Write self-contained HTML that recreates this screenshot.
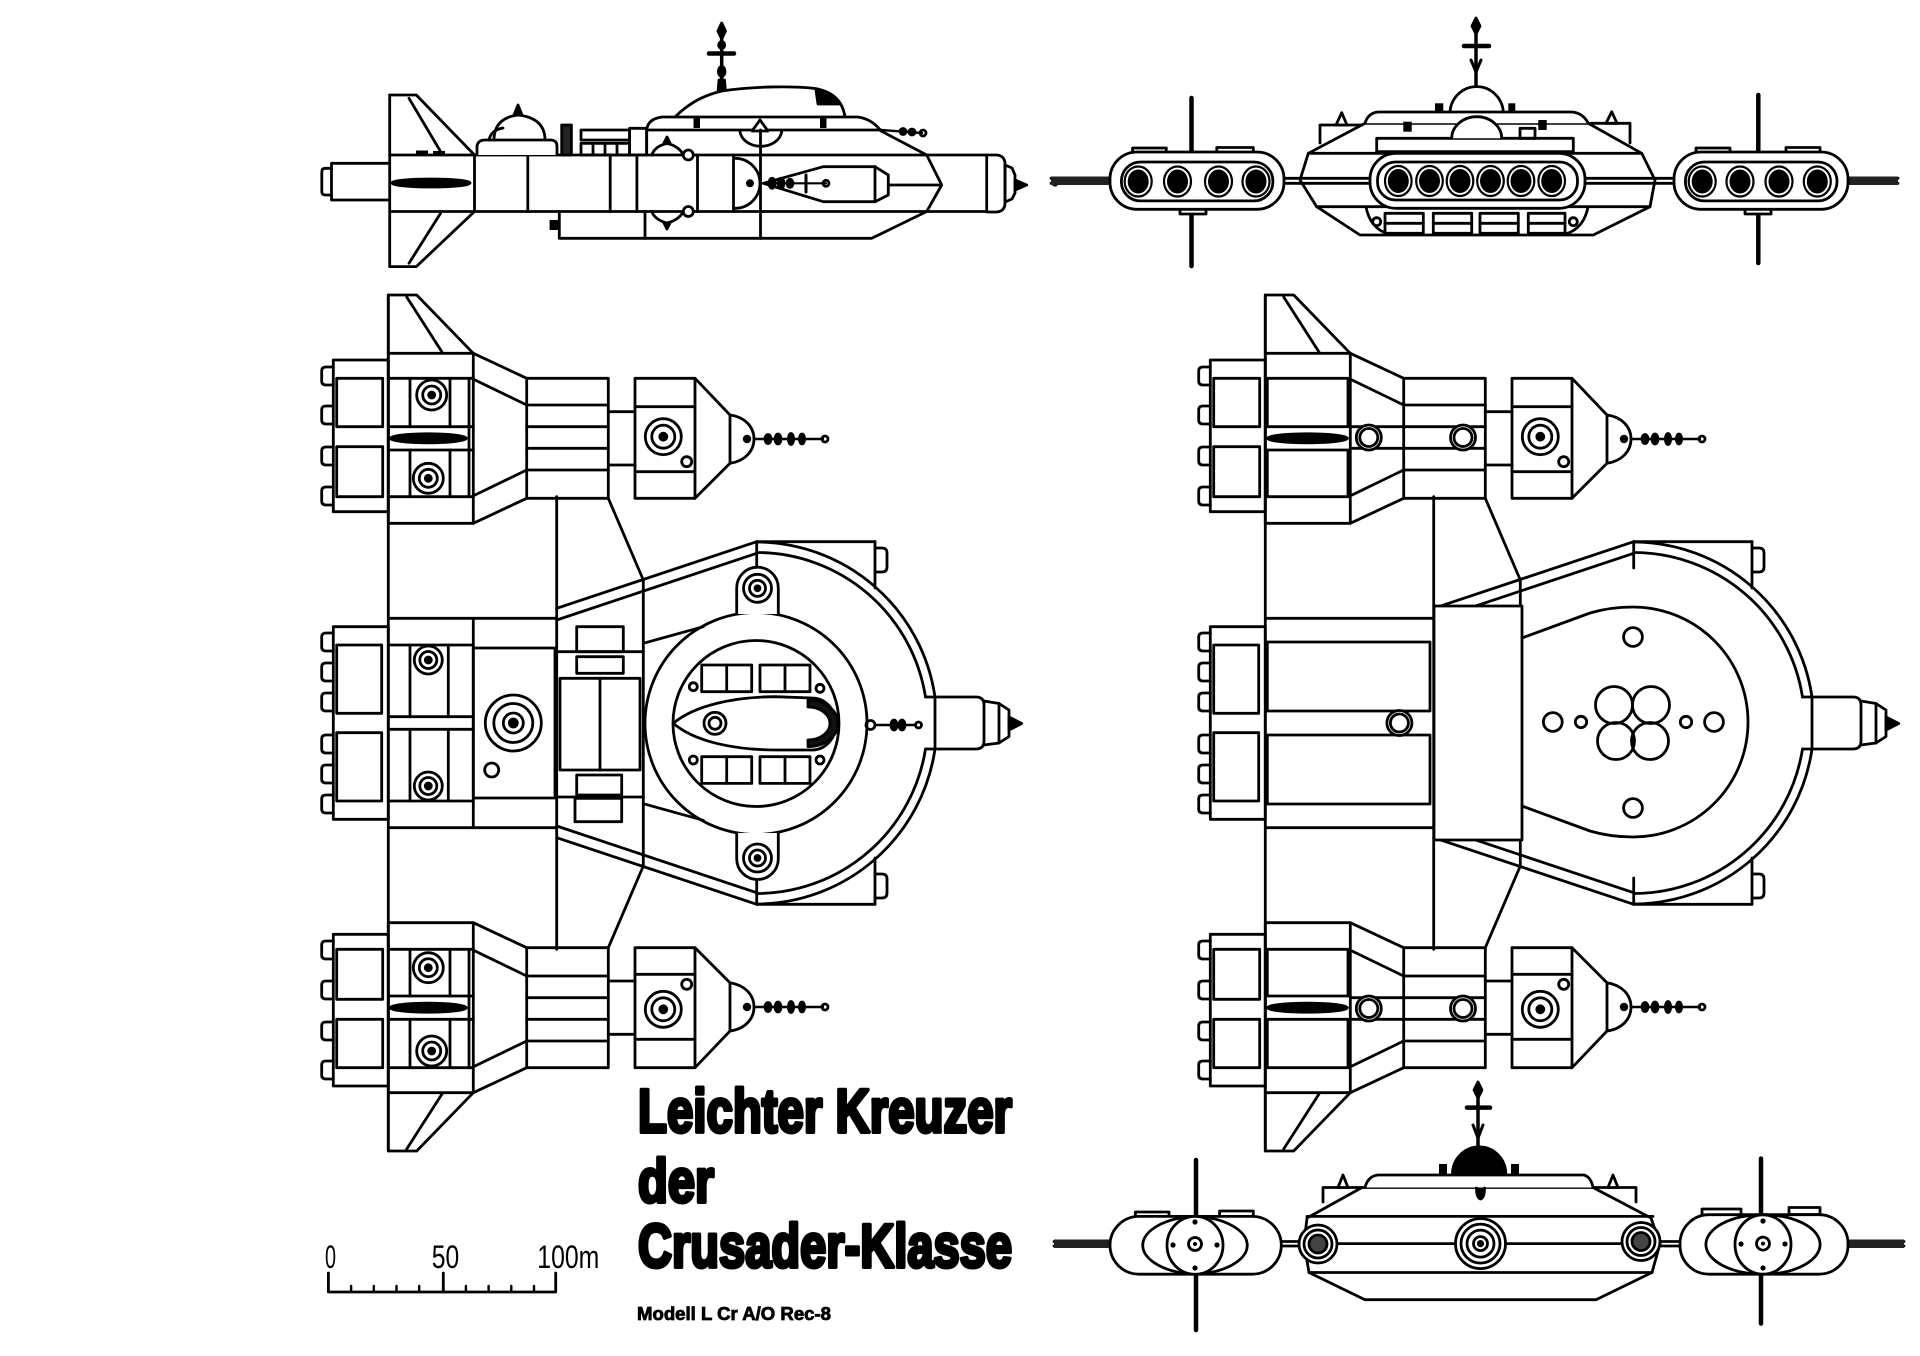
<!DOCTYPE html>
<html><head><meta charset="utf-8"><title>Leichter Kreuzer der Crusader-Klasse</title>
<style>html,body{margin:0;padding:0;background:#fff;overflow:hidden}svg{display:block}</style>
</head><body>
<svg xmlns="http://www.w3.org/2000/svg" width="1920" height="1356" viewBox="0 0 1920 1356">
<rect width="1920" height="1356" fill="#fff"/>
<defs>
<g id="pod">
 <polyline points="388.3,353.3 388.3,295 416.7,295 473.3,353.3"/>
 <line x1="406.7" y1="297" x2="442" y2="352"/>
 <rect x="388.3" y="353.3" width="85" height="170"/>
 <path d="M333.3,367H326Q321.7,367 321.7,371V381Q321.7,385 326,385H333.3M333.3,406H326Q321.7,406 321.7,410V420Q321.7,424 326,424H333.3M333.3,447H326Q321.7,447 321.7,451V461Q321.7,465 326,465H333.3M333.3,487H326Q321.7,487 321.7,491V501Q321.7,505 326,505H333.3"/>
 <rect x="333.3" y="360" width="55" height="151.7"/>
 <rect x="336.7" y="378.3" width="46" height="48.4"/>
 <rect x="336.7" y="446.7" width="46" height="50"/>
 <line x1="473.3" y1="353.3" x2="526.7" y2="378.3"/>
 <line x1="473.3" y1="523.3" x2="526.7" y2="498.3"/>
 <line x1="475" y1="380" x2="526.7" y2="405"/>
 <line x1="475" y1="495" x2="526.7" y2="470"/>
 <rect x="526.7" y="378.3" width="81.6" height="120"/>
 <line x1="526.7" y1="405" x2="608.3" y2="405"/>
 <line x1="526.7" y1="426.7" x2="608.3" y2="426.7"/>
 <line x1="526.7" y1="448.3" x2="608.3" y2="448.3"/>
 <line x1="526.7" y1="470" x2="608.3" y2="470"/>
 <line x1="608.3" y1="411.7" x2="635" y2="411.7"/>
 <line x1="608.3" y1="465" x2="635" y2="465"/>
 <rect x="635" y="378.3" width="60" height="120"/>
 <line x1="635" y1="406.7" x2="695" y2="406.7"/>
 <line x1="635" y1="471.7" x2="695" y2="471.7"/>
 <circle cx="663.3" cy="436.7" r="18"/>
 <circle cx="663.3" cy="436.7" r="11.5"/>
 <circle cx="663.3" cy="436.7" r="3.5" fill="#000"/>
 <circle cx="686.7" cy="461.7" r="5"/>
 <line x1="695" y1="378.3" x2="730" y2="415"/>
 <line x1="695" y1="498.3" x2="730" y2="463.3"/>
 <path d="M730,415C745,417 754,427 754,439C754,451 745,461 730,463.3Z"/>
 <circle cx="747" cy="439" r="2.8" fill="#000"/>
 <line x1="754" y1="439" x2="823" y2="439" stroke-width="2.4"/>
 <ellipse cx="768" cy="439" rx="3" ry="4.5" fill="#000"/>
 <ellipse cx="778" cy="439" rx="3" ry="5" fill="#000"/>
 <ellipse cx="791" cy="439" rx="2.6" ry="5.5" fill="#000"/>
 <ellipse cx="802" cy="439" rx="2.6" ry="5" fill="#000"/>
 <circle cx="825" cy="439" r="3"/>
 <line x1="608.3" y1="498.3" x2="643.3" y2="580"/>
</g>
<g id="shell">
 <use href="#pod"/>
 <use href="#pod" transform="matrix(1 0 0 -1 0 1446)"/>
 <line x1="388.3" y1="295" x2="388.3" y2="1151"/>
 <line x1="556.7" y1="496.7" x2="556.7" y2="949.3"/>
 <line x1="643.3" y1="580" x2="643.3" y2="866"/>
 <line x1="388.3" y1="618.3" x2="556.7" y2="618.3"/>
 <line x1="388.3" y1="827.7" x2="556.7" y2="827.7"/>
 <path d="M333.3,633H326Q321.7,633 321.7,637V647Q321.7,651 326,651H333.3M333.3,663H326Q321.7,663 321.7,667V677Q321.7,681 326,681H333.3M333.3,693H326Q321.7,693 321.7,697V707Q321.7,711 326,711H333.3M333.3,735H326Q321.7,735 321.7,739V749Q321.7,753 326,753H333.3M333.3,765H326Q321.7,765 321.7,769V779Q321.7,783 326,783H333.3M333.3,795H326Q321.7,795 321.7,799V809Q321.7,813 326,813H333.3"/>
 <rect x="333.3" y="626.7" width="55" height="192.6"/>
 <rect x="336.7" y="645" width="45" height="68.3"/>
 <rect x="336.7" y="732.7" width="45" height="68.3"/>
 <line x1="556.7" y1="608.3" x2="756.7" y2="541.7"/>
 <line x1="556.7" y1="620" x2="756.7" y2="553.3"/>
 <line x1="556.7" y1="837.7" x2="756.7" y2="904.3"/>
 <line x1="556.7" y1="826" x2="756.7" y2="892.7"/>
 <line x1="756.7" y1="541.7" x2="875" y2="541.7"/>
 <line x1="756.7" y1="904.3" x2="875" y2="904.3"/>
 <line x1="756.7" y1="541.7" x2="756.7" y2="568"/>
 <line x1="756.7" y1="878" x2="756.7" y2="904.3"/>
 <line x1="875" y1="541.7" x2="875" y2="588"/>
 <line x1="875" y1="858" x2="875" y2="904.3"/>
 <path d="M875,548H882Q887,548 887,553V567Q887,572 882,572H875"/>
 <path d="M875,874H882Q887,874 887,879V893Q887,898 882,898H875"/>
 <path d="M757,542A181,181 0 0 1 935,697"/>
 <path d="M757,904A181,181 0 0 0 935,749"/>
 <path d="M757,552.5A171,171 0 0 1 925.5,697"/>
 <path d="M757,893.5A171,171 0 0 0 925.5,749"/>
 <path d="M925.5,697H976Q984,697 984,705V741Q984,749 976,749H925.5"/>
 <line x1="935" y1="697" x2="935" y2="749"/>
 <polyline points="984,701 999,703.5 1009,710 1009,736.5 999,743 984,745"/>
 <line x1="999" y1="703.5" x2="999" y2="743"/>
 <polygon points="1009,717 1021.7,723.5 1009,730" fill="#000"/>
</g>
<g id="podInL">
 <line x1="388.3" y1="378.3" x2="473.3" y2="378.3"/>
 <line x1="388.3" y1="426.7" x2="473.3" y2="426.7"/>
 <line x1="388.3" y1="450" x2="473.3" y2="450"/>
 <line x1="388.3" y1="496.7" x2="473.3" y2="496.7"/>
 <line x1="410" y1="378.3" x2="410" y2="426.7"/>
 <line x1="450" y1="378.3" x2="450" y2="426.7"/>
 <line x1="410" y1="450" x2="410" y2="496.7"/>
 <line x1="450" y1="450" x2="450" y2="496.7"/>
 <line x1="469" y1="378.3" x2="469" y2="496.7"/>
 <circle cx="431.7" cy="395" r="15"/>
 <circle cx="431.7" cy="395" r="9"/>
 <circle cx="431.7" cy="395" r="3" fill="#000"/>
 <circle cx="428.3" cy="478.3" r="15"/>
 <circle cx="428.3" cy="478.3" r="9"/>
 <circle cx="428.3" cy="478.3" r="3" fill="#000"/>
 <ellipse cx="428.3" cy="438.3" rx="38" ry="4.5" fill="#000"/>
</g>
<g id="podInR">
 <rect x="1267.3" y="378.3" width="80.7" height="48.4"/>
 <rect x="1267.3" y="450" width="80.7" height="46.7"/>
 <ellipse cx="1307.4" cy="438.3" rx="40" ry="4.5" fill="#000"/>
 <line x1="1350.3" y1="426.7" x2="1403.7" y2="426.7"/>
 <line x1="1350.3" y1="448.3" x2="1403.7" y2="448.3"/>
 <circle cx="1368.8" cy="437.5" r="12.5" fill="#fff"/>
 <circle cx="1368.8" cy="437.5" r="9"/>
 <circle cx="1463" cy="437.5" r="12.5" fill="#fff"/>
 <circle cx="1463" cy="437.5" r="9"/>
</g>
</defs>

<g fill="none" stroke="#000" stroke-width="2.8" stroke-linejoin="round" stroke-linecap="round">

<!-- ================= SIDE VIEW ================= -->
<line x1="721.7" y1="30" x2="721.7" y2="92" stroke-width="3.5"/>
<path d="M721.7,23 L725.5,31 L721.7,39 L717.9,31Z" fill="#000"/>
<line x1="709" y1="53.5" x2="734" y2="53.5" stroke-width="4.5"/>
<ellipse cx="721.7" cy="45" rx="3" ry="3.5" fill="#000"/>
<ellipse cx="721.7" cy="71.5" rx="3.3" ry="5" fill="#000"/>
<path d="M718,92 L719,80 L724.5,80 L725.5,92Z" fill="#000"/>
<path d="M675,117 C690,102 705,95 722,91 C755,86 795,86 815,88.5 C835,92 843,103 845,117" fill="#fff"/>
<path d="M816,90 C828,92 836,97 840,104 L818,104 Z" fill="#000"/>
<path d="M646.7,155 V131 Q647,119 662,117 H858 Q872,119 881,131 L926.7,155" fill="#fff"/>
<line x1="646.7" y1="130" x2="881" y2="130"/>
<rect x="693.5" y="118" width="6.5" height="10" fill="#000" stroke="none"/>
<rect x="820" y="118" width="6.5" height="10" fill="#000" stroke="none"/>
<path d="M740,131.7 A21,16.6 0 0 0 781.7,131.7"/>
<path d="M752,131 L760,120 L768,131Z" fill="#fff"/>
<line x1="881" y1="130" x2="922" y2="133" stroke-width="2.4"/>
<circle cx="903" cy="131.5" r="3" fill="#000"/>
<circle cx="912" cy="132" r="3" fill="#000"/>
<circle cx="923" cy="133" r="3"/>
<!-- engine & fins -->
<path d="M389.7,163.3 H331.5 V200 H389.7"/>
<path d="M331.5,168.3 H325 Q321.8,168.3 321.8,172 V191 Q321.8,195 325,195 H331.5"/>
<line x1="389.7" y1="95" x2="389.7" y2="266.6"/>
<polyline points="389.7,95 416.3,95 474.5,155"/>
<line x1="409" y1="98.3" x2="440.6" y2="151.6"/>
<polyline points="389.7,266.6 416.3,266.6 474.5,211.5"/>
<line x1="440.6" y1="213.2" x2="409" y2="263.2"/>
<rect x="416" y="150.5" width="12" height="4.5" fill="#000" stroke="none"/>
<rect x="433" y="151" width="12" height="4" fill="#000" stroke="none"/>
<!-- body -->
<line x1="389.7" y1="155" x2="986.7" y2="155"/>
<line x1="389.7" y1="211.5" x2="986.7" y2="211.5"/>
<ellipse cx="431" cy="183" rx="39" ry="4" fill="#000"/>
<line x1="474.5" y1="155" x2="474.5" y2="211.5"/>
<line x1="527.8" y1="155" x2="527.8" y2="211.5"/>
<line x1="610.2" y1="155" x2="610.2" y2="211.5"/>
<line x1="636.9" y1="155" x2="636.9" y2="211.5"/>
<line x1="697.5" y1="155" x2="697.5" y2="211.5"/>
<line x1="733.5" y1="155" x2="733.5" y2="211.5"/>
<line x1="760.5" y1="130" x2="760.5" y2="238.3"/>
<!-- turret on left deck -->
<path d="M477,155 V146 Q478,140.5 484,140 H551 Q557,140.5 557,146 V155" fill="#fff"/>
<path d="M494,140 Q494,118 518,115 Q545,118 545,140"/>
<path d="M489,140 Q491,130 503,128"/>
<path d="M514,115 L518,105 L522,115Z" fill="#000"/>
<rect x="561.7" y="125" width="9.7" height="30" fill="#222"/>
<rect x="581" y="130" width="48.6" height="10"/>
<rect x="581" y="143.3" width="48.6" height="11.7"/>
<line x1="593" y1="143.3" x2="593" y2="155"/>
<line x1="605" y1="143.3" x2="605" y2="155"/>
<line x1="617" y1="143.3" x2="617" y2="155"/>
<rect x="629.6" y="128.3" width="17" height="26.7"/>
<!-- small body turrets -->
<path d="M651.7,155 Q655,146 667,143.5 Q679,146 683.3,155"/>
<path d="M664,143 L667,137 L670,143Z" fill="#000"/>
<path d="M651.7,211.5 Q655,220 667,223 Q679,220 683.3,211.5"/>
<path d="M664,223 L667,229 L670,223Z" fill="#000"/>
<circle cx="688.3" cy="155" r="5" fill="#fff"/>
<circle cx="688.3" cy="211.5" r="5" fill="#fff"/>
<!-- half disc & missile -->
<path d="M735,158.3 A25,25 0 0 1 735,208.3"/>
<circle cx="750" cy="183.3" r="2.6" fill="#000"/>
<polygon points="763.3,183.3 823.3,166.7 875,166.7 888.3,175 888.3,195 875,201.7 823.3,201.7"/>
<line x1="875" y1="166.7" x2="875" y2="201.7"/>
<line x1="888.3" y1="185" x2="940" y2="185"/>
<line x1="763" y1="183.3" x2="826" y2="183.3" stroke-width="2.2"/>
<ellipse cx="772" cy="183.3" rx="3" ry="5" fill="#000"/>
<ellipse cx="781" cy="183.3" rx="3" ry="5" fill="#000"/>
<ellipse cx="790" cy="183.3" rx="3" ry="4" fill="#000"/>
<line x1="806" y1="175" x2="806" y2="192" stroke-width="3"/>
<circle cx="826" cy="183.3" r="3"/>
<!-- front profile and lower hull -->
<polyline points="926.7,155 941.7,185 926.7,211.5"/>
<path d="M559.3,211.5 V238.3 H871.7 L926.7,211.5"/>
<rect x="549.6" y="220" width="9.7" height="10" fill="#000" stroke="none"/>
<line x1="645" y1="211.5" x2="645" y2="238.3"/>
<!-- nose -->
<path d="M986.7,155 H997 Q1005,156 1005,164 V203 Q1005,211 997,212 H986.7Z"/>
<polygon points="1005,165 1012,168 1015,175 1015,193 1012,199 1005,202"/>
<polygon points="1015,180 1026.7,185 1015,190" fill="#000"/>
<circle cx="1055" cy="183.3" r="3.2" fill="#000" stroke="none"/>

<!-- ================= TOP VIEW LEFT ================= -->
<use href="#shell"/>
<use href="#podInL"/>
<use href="#podInL" transform="matrix(1 0 0 -1 0 1446)"/>
<line x1="388.3" y1="645" x2="473.3" y2="645"/>
<line x1="388.3" y1="801" x2="473.3" y2="801"/>
<line x1="388.3" y1="716.7" x2="473.3" y2="716.7"/>
<line x1="388.3" y1="729.3" x2="473.3" y2="729.3"/>
<line x1="410" y1="645" x2="410" y2="716.7"/>
<line x1="448.3" y1="645" x2="448.3" y2="716.7"/>
<line x1="410" y1="729.3" x2="410" y2="801"/>
<line x1="448.3" y1="729.3" x2="448.3" y2="801"/>
<line x1="473.3" y1="618.3" x2="473.3" y2="827.7"/>
<circle cx="428.3" cy="660" r="14"/>
<circle cx="428.3" cy="660" r="8.5"/>
<circle cx="428.3" cy="660" r="3" fill="#000"/>
<circle cx="428.3" cy="786" r="14"/>
<circle cx="428.3" cy="786" r="8.5"/>
<circle cx="428.3" cy="786" r="3" fill="#000"/>
<rect x="473.3" y="648" width="81.7" height="150"/>
<circle cx="513.3" cy="723" r="28"/>
<circle cx="513.3" cy="723" r="19.5"/>
<circle cx="513.3" cy="723" r="10"/>
<circle cx="513.3" cy="723" r="4" fill="#000"/>
<circle cx="491.7" cy="770" r="7"/>
<rect x="576.7" y="626.7" width="46.6" height="25"/>
<rect x="576.7" y="656.7" width="46.6" height="16.6"/>
<rect x="560" y="678.3" width="80" height="91.7"/>
<line x1="600" y1="678.3" x2="600" y2="770"/>
<rect x="576.7" y="775" width="45" height="20"/>
<rect x="575" y="798.3" width="46.7" height="23.4"/>
<line x1="556.7" y1="651.7" x2="643.3" y2="651.7"/>
<line x1="556.7" y1="797" x2="643.3" y2="797"/>
<!-- ring -->
<line x1="643.3" y1="643.3" x2="703.3" y2="626.7"/>
<line x1="643.3" y1="803.7" x2="703.3" y2="820.3"/>
<circle cx="756" cy="723.5" r="111"/>
<circle cx="756" cy="723.5" r="83"/>
<path d="M736.7,614 V588 A20.8,20.8 0 0 1 778.3,588 V614" fill="#fff"/>
<circle cx="757.5" cy="588.3" r="14"/>
<circle cx="757.5" cy="588.3" r="8"/>
<circle cx="757.5" cy="588.3" r="2.5" fill="#000"/>
<path d="M736.7,833 V858.7 A20.8,20.8 0 0 0 778.3,858.7 V833" fill="#fff"/>
<circle cx="757.5" cy="858" r="14"/>
<circle cx="757.5" cy="858" r="8"/>
<circle cx="757.5" cy="858" r="2.5" fill="#000"/>
<!-- cockpit -->
<rect x="701.7" y="665" width="50" height="26.7"/>
<line x1="726.7" y1="665" x2="726.7" y2="691.7"/>
<rect x="760" y="665" width="50" height="26.7"/>
<line x1="785" y1="665" x2="785" y2="691.7"/>
<rect x="701.7" y="756.7" width="50" height="26.7"/>
<line x1="726.7" y1="756.7" x2="726.7" y2="783.3"/>
<rect x="760" y="756.7" width="50" height="26.7"/>
<line x1="785" y1="756.7" x2="785" y2="783.3"/>
<circle cx="693.3" cy="686.7" r="4"/>
<circle cx="820" cy="688.3" r="4"/>
<circle cx="693.3" cy="760" r="4"/>
<circle cx="820" cy="760" r="4"/>
<path d="M673.3,723.3 C695,705 735,697 775,696.7 L812,698 A24,26 0 0 1 812,750 L775,750 C735,749.7 695,742 673.3,723.3 Z"/>
<path d="M808,700 A30,23.3 0 0 1 808,746.6 L808,740 A22,16.5 0 0 0 808,707 Z" fill="#111"/>
<circle cx="715" cy="723.3" r="11"/>
<circle cx="715" cy="723.3" r="6"/>
<circle cx="870.5" cy="725" r="4.5"/>
<line x1="875" y1="725" x2="916" y2="725" stroke-width="2.4"/>
<ellipse cx="894" cy="725" rx="3" ry="5" fill="#000"/>
<ellipse cx="902" cy="725" rx="3" ry="5" fill="#000"/>
<circle cx="918.5" cy="725" r="3"/>

<!-- ================= TOP VIEW RIGHT ================= -->
<use href="#shell" transform="translate(877,0)"/>
<use href="#podInR"/>
<use href="#podInR" transform="matrix(1 0 0 -1 0 1446)"/>
<rect x="1267.3" y="642" width="162.7" height="69"/>
<rect x="1267.3" y="735" width="162.7" height="69"/>
<circle cx="1399.4" cy="723" r="12.5" fill="#fff"/>
<circle cx="1399.4" cy="723" r="9"/>
<rect x="1434" y="606" width="88" height="234" fill="#fff"/>
<path d="M1522,638 L1590,613 Q1610,607 1633,607 A115,115 0 0 1 1633,837 Q1610,837 1590,831 L1522,806"/>
<circle cx="1614" cy="705" r="18.5"/>
<circle cx="1651" cy="705" r="18.5"/>
<circle cx="1616" cy="741" r="18.5"/>
<circle cx="1650" cy="741" r="18.5"/>
<circle cx="1552.8" cy="722" r="9.4"/>
<circle cx="1581" cy="722" r="5.7"/>
<circle cx="1686" cy="722" r="5.7"/>
<circle cx="1714" cy="722" r="9.4"/>
<circle cx="1633" cy="637" r="9.4"/>
<circle cx="1633" cy="808" r="9.4"/>

<!-- ================= FRONT VIEW (top right) ================= -->
<line x1="1191.5" y1="98" x2="1191.5" y2="266" stroke-width="4.5"/>
<line x1="1758.3" y1="95" x2="1758.3" y2="263" stroke-width="4.5"/>
<line x1="1051" y1="178.3" x2="1898" y2="178.3"/>
<line x1="1051" y1="183.3" x2="1898" y2="183.3"/>
<rect x="1051" y="176.5" width="59" height="8.5" fill="#222" stroke="none"/>
<rect x="1842" y="176.5" width="56" height="8.5" fill="#222" stroke="none"/>
<rect x="1132.6" y="148" width="33.7" height="5" fill="#fff"/>
<rect x="1216.8" y="147.5" width="36.5" height="5.5" fill="#fff"/>
<rect x="1180" y="208" width="26" height="6" fill="#fff"/>
<rect x="1110" y="152" width="174" height="57.3" rx="27" fill="#fff"/>
<rect x="1121.4" y="162" width="151.5" height="38.9" rx="19"/>
<rect x="1696" y="148" width="34" height="5" fill="#fff"/>
<rect x="1786" y="147.5" width="34" height="5.5" fill="#fff"/>
<rect x="1745" y="208" width="26" height="6" fill="#fff"/>
<rect x="1674" y="152" width="174" height="57.3" rx="27" fill="#fff"/>
<rect x="1685.4" y="162" width="151.6" height="38.9" rx="19"/>
<g stroke-width="2.2">
<ellipse cx="1138.2" cy="181.5" rx="13.5" ry="15" fill="#fff"/><ellipse cx="1177.5" cy="181.5" rx="13.5" ry="15" fill="#fff"/><ellipse cx="1218.5" cy="181.5" rx="13.5" ry="15" fill="#fff"/><ellipse cx="1256" cy="181.5" rx="13.5" ry="15" fill="#fff"/>
<ellipse cx="1702.2" cy="181.5" rx="13.5" ry="15" fill="#fff"/><ellipse cx="1740" cy="181.5" rx="13.5" ry="15" fill="#fff"/><ellipse cx="1779" cy="181.5" rx="13.5" ry="15" fill="#fff"/><ellipse cx="1817.3" cy="181.5" rx="13.5" ry="15" fill="#fff"/>
</g>
<g fill="#000" stroke="none">
<ellipse cx="1138.2" cy="181.5" rx="10.5" ry="12"/><ellipse cx="1177.5" cy="181.5" rx="10.5" ry="12"/><ellipse cx="1218.5" cy="181.5" rx="10.5" ry="12"/><ellipse cx="1256" cy="181.5" rx="10.5" ry="12"/>
<ellipse cx="1702.2" cy="181.5" rx="10.5" ry="12"/><ellipse cx="1740" cy="181.5" rx="10.5" ry="12"/><ellipse cx="1779" cy="181.5" rx="10.5" ry="12"/><ellipse cx="1817.3" cy="181.5" rx="10.5" ry="12"/>
</g>
<polygon points="1300,180 1308.3,153.3 1365,123.3 1588.3,123.3 1641.7,153.3 1655,180 1650,206.7 1593.3,235 1360,235 1316.7,206.7" fill="#fff"/>
<line x1="1308.3" y1="153.3" x2="1641.7" y2="153.3"/>
<line x1="1316.7" y1="206.7" x2="1650" y2="206.7"/>
<line x1="1300" y1="178.3" x2="1655" y2="178.3"/>
<line x1="1300" y1="183.3" x2="1655" y2="183.3"/>
<path d="M1365,123.3 Q1368,113 1378,112 H1572 Q1583,113 1588.3,123.3" fill="#fff"/>
<path d="M1320,143 V125 H1362"/>
<path d="M1336,125 L1341.7,112.7 L1347,125Z" fill="#fff"/>
<path d="M1630,143 V123.3 H1590"/>
<path d="M1606,123.3 L1611.7,111.7 L1617,123.3Z" fill="#fff"/>
<rect x="1376.7" y="138.3" width="196.6" height="13.4" fill="#fff"/>
<path d="M1450,112 A26.7,27 0 0 1 1503.3,112"/>
<path d="M1451.7,138.3 A25,21.6 0 0 1 1501.7,138.3" fill="#fff"/>
<rect x="1435" y="103.3" width="8.3" height="8.4" fill="#000" stroke="none"/>
<rect x="1508.3" y="103.3" width="7" height="8.4" fill="#000" stroke="none"/>
<rect x="1403.3" y="121.7" width="8.4" height="10" fill="#000" stroke="none"/>
<rect x="1538.3" y="120" width="8.4" height="10" fill="#000" stroke="none"/>
<rect x="1520" y="128.3" width="15" height="10"/>
<line x1="1476" y1="26" x2="1476" y2="85" stroke-width="3.5"/>
<path d="M1476,18 L1480,26 L1476,34 L1472,26Z" fill="#000"/>
<line x1="1464" y1="46" x2="1489" y2="46" stroke-width="4.5"/>
<path d="M1471,60 L1476,72 L1481,60" stroke-width="3"/>
<rect x="1370" y="153.3" width="215" height="55" rx="26" fill="#fff"/>
<rect x="1377.5" y="162" width="200" height="38" rx="18"/>
<g stroke-width="2.2">
<ellipse cx="1398.3" cy="181" rx="13.3" ry="15" fill="#fff"/><ellipse cx="1429.5" cy="181" rx="13.3" ry="15" fill="#fff"/><ellipse cx="1460" cy="181" rx="13.3" ry="15" fill="#fff"/><ellipse cx="1490.5" cy="181" rx="13.3" ry="15" fill="#fff"/><ellipse cx="1521" cy="181" rx="13.3" ry="15" fill="#fff"/><ellipse cx="1551.7" cy="181" rx="13.3" ry="15" fill="#fff"/>
</g>
<g fill="#000" stroke="none">
<ellipse cx="1398.3" cy="181" rx="10.5" ry="12"/><ellipse cx="1429.5" cy="181" rx="10.5" ry="12"/><ellipse cx="1460" cy="181" rx="10.5" ry="12"/><ellipse cx="1490.5" cy="181" rx="10.5" ry="12"/><ellipse cx="1521" cy="181" rx="10.5" ry="12"/><ellipse cx="1551.7" cy="181" rx="10.5" ry="12"/>
</g>
<path d="M1366,207 Q1370,228 1388,234"/>
<path d="M1588,207 Q1584,228 1566,234"/>
<rect x="1385" y="213.3" width="38.3" height="20"/><line x1="1385" y1="223.3" x2="1423.3" y2="223.3"/>
<rect x="1433.3" y="213.3" width="38.4" height="20"/><line x1="1433.3" y1="223.3" x2="1471.7" y2="223.3"/>
<rect x="1480" y="213.3" width="38.3" height="20"/><line x1="1480" y1="223.3" x2="1518.3" y2="223.3"/>
<rect x="1528.3" y="213.3" width="36.7" height="20"/><line x1="1528.3" y1="223.3" x2="1565" y2="223.3"/>
<circle cx="1376.7" cy="221.7" r="4"/>
<circle cx="1573.3" cy="221.7" r="4"/>

<!-- ================= REAR VIEW (bottom right) ================= -->
<line x1="1196" y1="1160" x2="1196" y2="1330" stroke-width="4.5"/>
<line x1="1761" y1="1158.6" x2="1761" y2="1323.5" stroke-width="4.5"/>
<line x1="1054" y1="1241.5" x2="1904" y2="1241.5"/>
<line x1="1054" y1="1246" x2="1904" y2="1246"/>
<rect x="1054" y="1239.5" width="56" height="8.5" fill="#222" stroke="none"/>
<rect x="1848" y="1239.5" width="56" height="8.5" fill="#222" stroke="none"/>
<rect x="1135.4" y="1212" width="33.6" height="4.8" fill="#fff"/>
<rect x="1219.6" y="1211" width="33.7" height="5.8" fill="#fff"/>
<rect x="1110" y="1216.4" width="171.3" height="57.8" rx="29" fill="#fff"/>
<path d="M1195,1216.4 A57,29 0 0 0 1195,1274.2"/>
<path d="M1195,1216.4 A57,29 0 0 1 1195,1274.2"/>
<ellipse cx="1195" cy="1245.3" rx="28" ry="29" fill="#fff"/>
<circle cx="1195" cy="1244" r="6.5"/>
<g fill="#000" stroke="none"><circle cx="1195" cy="1222" r="2.6"/><circle cx="1195" cy="1268" r="2.6"/><circle cx="1173" cy="1245" r="2.6"/><circle cx="1217" cy="1245" r="2.6"/><circle cx="1195" cy="1244" r="2"/></g>
<rect x="1702" y="1209" width="39" height="6" fill="#fff"/>
<rect x="1789" y="1207.5" width="31" height="7" fill="#fff"/>
<rect x="1680" y="1214.7" width="168" height="59.5" rx="29" fill="#fff"/>
<path d="M1763,1214.7 A57,29.7 0 0 0 1763,1274.2"/>
<path d="M1763,1214.7 A57,29.7 0 0 1 1763,1274.2"/>
<ellipse cx="1763" cy="1244.5" rx="28" ry="29.7" fill="#fff"/>
<circle cx="1763" cy="1243.6" r="6.5"/>
<g fill="#000" stroke="none"><circle cx="1763" cy="1221" r="2.6"/><circle cx="1763" cy="1268" r="2.6"/><circle cx="1741" cy="1244" r="2.6"/><circle cx="1785" cy="1244" r="2.6"/><circle cx="1763" cy="1243.6" r="2"/></g>
<polygon points="1304,1243.6 1307,1218 1362,1187.5 1593,1187.5 1651,1218 1660,1243.6 1652,1272.5 1596,1299.7 1365,1299.7 1309,1272.5" fill="#fff"/>
<line x1="1307" y1="1216.4" x2="1653" y2="1216.4"/>
<line x1="1309" y1="1272.5" x2="1652" y2="1272.5"/>
<line x1="1304" y1="1243.6" x2="1660" y2="1243.6"/>
<path d="M1365,1187.5 Q1368,1176 1378,1175 H1584 Q1591,1177 1593,1187.5" fill="#fff"/>
<path d="M1323,1202 V1187.5 H1362"/>
<path d="M1338,1187.5 L1343,1175 L1348,1187.5Z" fill="#fff"/>
<path d="M1636,1202 V1187.5 H1593"/>
<path d="M1608,1187.5 L1613,1175 L1618,1187.5Z" fill="#fff"/>
<path d="M1452.5,1174 A26.6,27 0 0 1 1505.8,1174 Z" fill="#000"/>
<rect x="1439" y="1164" width="8" height="10" fill="#000" stroke="none"/>
<rect x="1511" y="1164" width="8" height="10" fill="#000" stroke="none"/>
<path d="M1476.5,1188 Q1476.5,1198 1480.5,1199 Q1484.5,1198 1484.5,1188" fill="#000"/>
<line x1="1478" y1="1090" x2="1478" y2="1148" stroke-width="3.5"/>
<path d="M1478,1082 L1482,1090 L1478,1098 L1474,1090Z" fill="#000"/>
<line x1="1467" y1="1107.6" x2="1490" y2="1107.6" stroke-width="4.5"/>
<path d="M1473,1125 L1478,1138 L1483,1125" stroke-width="3"/>
<circle cx="1318" cy="1244" r="19" fill="#fff"/>
<circle cx="1318" cy="1244" r="14"/>
<circle cx="1318" cy="1244" r="9" fill="#444"/>
<circle cx="1480.5" cy="1243.6" r="25" fill="#fff"/>
<circle cx="1480.5" cy="1243.6" r="19.5"/>
<circle cx="1480.5" cy="1243.6" r="13.5"/>
<circle cx="1480.5" cy="1243.6" r="7"/>
<circle cx="1480.5" cy="1243.6" r="2.2" fill="#000"/>
<circle cx="1641" cy="1241.5" r="19" fill="#fff"/>
<circle cx="1641" cy="1241.5" r="14"/>
<circle cx="1641" cy="1241.5" r="9" fill="#444"/>

<!-- ================= SCALE BAR ================= -->
<path d="M328.4,1273 V1292 H555.7 V1273"/>
<line x1="443.3" y1="1273" x2="443.3" y2="1292"/>
<path d="M351.1,1286 V1292 M373.8,1286 V1292 M396.5,1286 V1292 M419.2,1286 V1292 M465.9,1286 V1292 M488.6,1286 V1292 M511.3,1286 V1292 M534,1286 V1292" stroke-width="2.4"/>
</g>

<!-- ================= TEXT ================= -->
<g font-family="'Liberation Sans Narrow','Liberation Sans',sans-serif" font-size="32" fill="#000">
<text x="325" y="1268" textLength="11" lengthAdjust="spacingAndGlyphs">0</text>
<text x="431.8" y="1268" textLength="27.4" lengthAdjust="spacingAndGlyphs">50</text>
<text x="537.3" y="1268" textLength="62" lengthAdjust="spacingAndGlyphs">100m</text>
</g>
<g font-family="'Liberation Sans',sans-serif" font-weight="bold" fill="#000" stroke="#000" stroke-width="4" stroke-linejoin="round">
<text x="638" y="1132" font-size="61" textLength="374" lengthAdjust="spacingAndGlyphs">Leichter Kreuzer</text>
<text x="638" y="1202" font-size="61" textLength="76" lengthAdjust="spacingAndGlyphs">der</text>
<text x="638" y="1267" font-size="61" textLength="374" lengthAdjust="spacingAndGlyphs">Crusader-Klasse</text>
</g>
<text x="637" y="1320" font-family="'Liberation Sans',sans-serif" font-weight="bold" font-size="18.5" fill="#000" stroke="#000" stroke-width="0.8" textLength="194" lengthAdjust="spacingAndGlyphs">Modell L Cr A/O Rec-8</text>
</svg>
</body></html>
